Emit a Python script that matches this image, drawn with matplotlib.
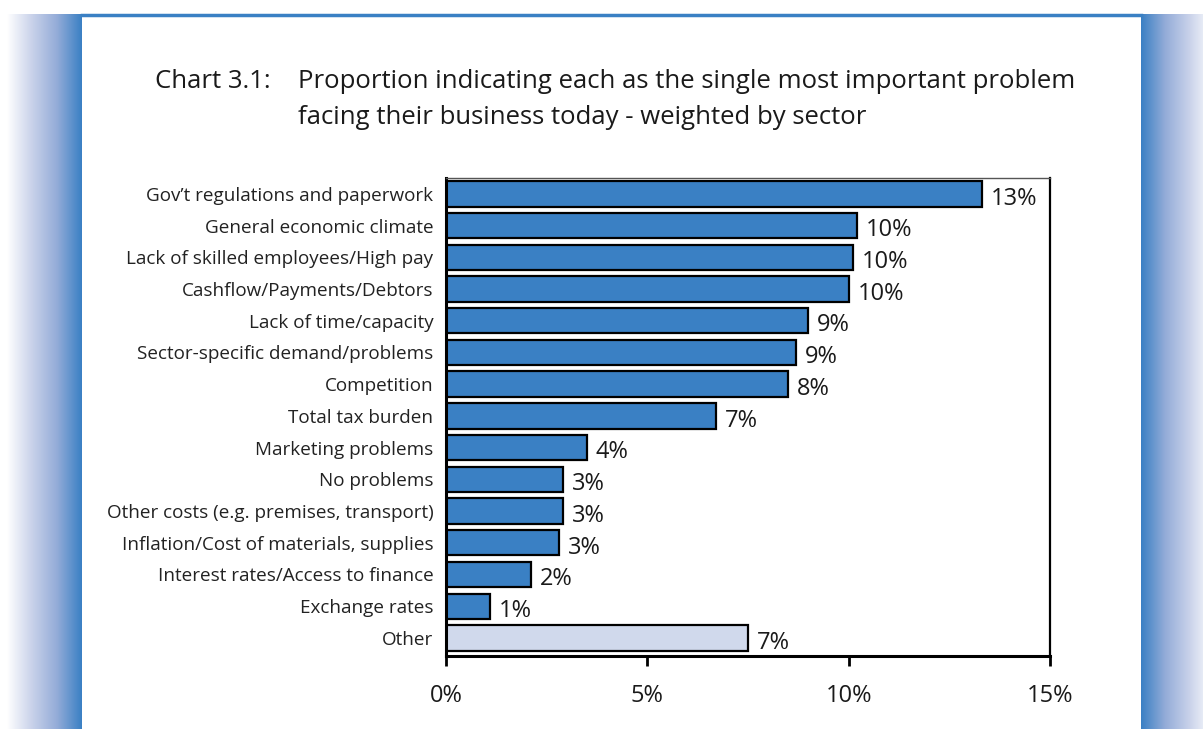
import numpy as np
import matplotlib.pyplot as plt
from matplotlib.colors import LinearSegmentedColormap

### Data
categories = ["Gov\u2019t regulations and paperwork", "General economic climate",
              "Lack of skilled employees/High pay", "Cashflow/Payments/Debtors",
              "Lack of time/capacity", "Sector-specific demand/problems",
              "Competition", "Total tax burden", "Marketing problems",
              "No problems", "Other costs (e.g. premises, transport)",
              "Inflation/Cost of materials, supplies",
              "Interest rates/Access to finance", "Exchange rates", "Other"]
values = [13.3, 10.2, 10.1, 10.0, 9.0, 8.7, 8.5, 6.7, 3.5, 2.9, 2.9, 2.8, 2.1, 1.1, 7.5]
value_labels = ["13%", "10%", "10%", "10%", "9%", "9%", "8%", "7%",
                "4%", "3%", "3%", "3%", "2%", "1%", "7%"]
x_ticks = [0, 5, 10, 15]
x_tick_labels = ["0%", "5%", "10%", "15%"]

plt.rcParams['font.family'] = ['Open Sans', 'DejaVu Sans']

W, H = 1203, 729
fig = plt.figure(figsize=(W/100, H/100), dpi=100)

### Background frame: gradient side bands and blue top rule
blue = '#3a80c4'
fade = LinearSegmentedColormap.from_list('fade', ['#ffffff', '#c9d2ea', '#94acd8', blue])
grad = np.linspace(0, 1, 256).reshape(1, -1)

bg_left = fig.add_axes([7/W, 0, 75/W, 1 - 14/H])
bg_left.imshow(grad, cmap=fade, aspect='auto')
bg_left.axis('off')

bg_right = fig.add_axes([1141/W, 0, 62/W, 1 - 14/H])
bg_right.imshow(grad[:, ::-1] * 0.85 + 0.15, cmap=fade, aspect='auto', vmin=0, vmax=1)
bg_right.axis('off')

fig.add_artist(plt.Line2D([82/W, 1141/W], [1 - 15/H, 1 - 15/H], color=blue, lw=2.5,
                          transform=fig.transFigure))

### Title
tc = '#1a1a1a'
fig.text(155/W, 1 - 82/H, "Chart 3.1:", fontsize=18.5, color=tc, va='center', ha='left')
fig.text(298/W, 1 - 82/H, "Proportion indicating each as the single most important problem",
         fontsize=18.5, color=tc, va='center', ha='left')
fig.text(298/W, 1 - 118/H, "facing their business today - weighted by sector",
         fontsize=18.5, color=tc, va='center', ha='left')

### Bars
ax = fig.add_axes([446/W, 1 - 656/H, (1050 - 446)/W, (656 - 178)/H])
y = np.arange(len(categories))
colors = [blue] * (len(categories) - 1) + ['#d0d9ec']
ax.barh(y, values, height=0.8, color=colors, edgecolor='black', linewidth=1.6)

for yi, v, lab in zip(y, values, value_labels):
    ax.text(v + 0.22, yi + 0.15, lab, va='center', ha='left', fontsize=17, color=tc)

ax.set_xlim(0, 15)
ax.set_ylim(len(categories) - 0.43, -0.5)
ax.set_yticks(y)
ax.set_yticklabels(categories, fontsize=13.6, color='#222222')
ax.tick_params(axis='y', length=0, pad=9)
ax.set_xticks(x_ticks)
ax.set_xticklabels(x_tick_labels, fontsize=17, color=tc)
ax.tick_params(axis='x', length=7, width=2, direction='out', pad=13)

ax.spines['left'].set_linewidth(2.2)
ax.spines['bottom'].set_linewidth(2.2)
ax.spines['top'].set_linewidth(1.0)
ax.spines['top'].set_color('#555555')
ax.spines['right'].set_linewidth(1.6)

plt.savefig('out.png', dpi=100)
